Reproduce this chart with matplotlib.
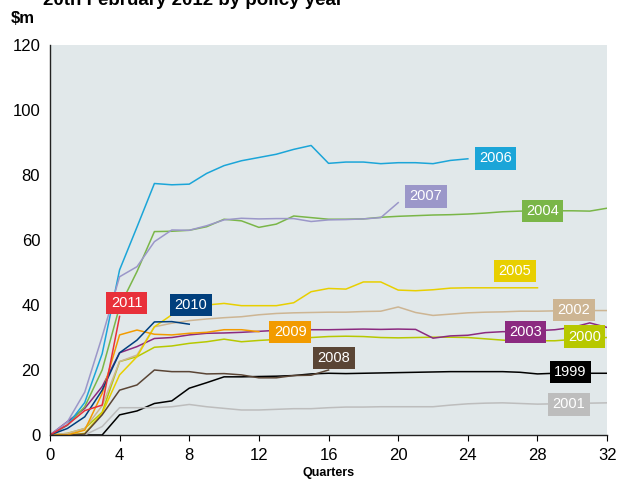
import numpy as np
import matplotlib.pyplot as plt

plt.rcParams['font.family'] = ['Liberation Sans', 'DejaVu Sans']

# cumulative claims ($m) by development quarter, one list per policy year
y1999 = [0, 0, 0, 0, 6.2, 7.4, 9.7, 10.5, 14.4, 16.1, 17.9, 17.9, 18.0, 18.1, 18.3, 18.8, 19.0,
         18.9, 19.0, 19.1, 19.2, 19.3, 19.4, 19.5, 19.5, 19.5, 19.5, 19.3, 18.8, 19.0, 19.0, 19.0, 19.0]
y2000 = [0, 0.5, 2, 7, 22.6, 24.1, 27.0, 27.4, 28.2, 28.7, 29.5, 28.7, 29.1, 29.4, 29.9, 30.0, 30.3,
         30.4, 30.3, 30.0, 29.9, 30.0, 30.1, 30.1, 30.0, 29.6, 29.2, 28.9, 29.0, 29.0, 29.4, 29.8, 30.0]
y2001 = [0, 0, 0, 2.6, 8.4, 8.4, 8.4, 8.7, 9.4, 8.7, 8.2, 7.7, 7.7, 7.9, 8.1, 8.1, 8.4,
         8.6, 8.6, 8.7, 8.7, 8.7, 8.7, 9.2, 9.6, 9.8, 9.9, 9.7, 9.5, 9.6, 9.7, 9.8, 9.9]
y2002 = [0, 0.5, 2, 9, 22.6, 24.6, 33.3, 34.4, 35.2, 35.7, 36.1, 36.4, 37.0, 37.4, 37.6, 37.7, 37.8,
         37.8, 38.0, 38.1, 39.4, 37.7, 36.8, 37.2, 37.6, 37.8, 37.9, 38.1, 38.1, 38.2, 38.2, 38.3, 38.3]
y2003 = [0, 4.1, 8.2, 14.9, 25.3, 27.2, 29.7, 30.0, 30.8, 31.3, 31.4, 31.6, 31.9, 32.2, 32.4, 32.4, 32.4,
         32.5, 32.6, 32.5, 32.6, 32.5, 29.8, 30.5, 30.7, 31.5, 31.8, 31.8, 32.1, 32.4, 33.1, 34.5, 33.1]
y2004 = [0, 3, 8.7, 20, 39.5, 50.3, 62.6, 62.7, 63.0, 64.1, 66.4, 65.9, 63.9, 64.9, 67.4, 66.9, 66.4,
         66.4, 66.5, 67.0, 67.3, 67.5, 67.7, 67.8, 68.0, 68.3, 68.7, 68.9, 68.9, 69.0, 69.0, 68.9, 69.8]
y2005 = [0, 0, 0.5, 6.7, 18.5, 24.1, 33.3, 37.0, 38.0, 40.0, 40.5, 39.8, 39.8, 39.8, 40.7, 44.1, 45.1,
         44.9, 47.1, 47.1, 44.6, 44.4, 44.7, 45.2, 45.3, 45.3, 45.3, 45.3, 45.3]
y2006 = [0, 3, 10, 25, 50.8, 64.0, 77.4, 77.0, 77.2, 80.5, 82.9, 84.4, 85.4, 86.4, 87.9, 89.1, 83.6,
         84.0, 84.0, 83.5, 83.8, 83.8, 83.5, 84.5, 85.0]
y2007 = [0, 4, 13.2, 30.3, 48.7, 51.8, 59.5, 63.1, 63.0, 64.4, 66.2, 66.7, 66.5, 66.6, 66.6, 65.7, 66.2,
         66.3, 66.5, 66.9, 71.5]
y2008 = [0, 0, 0.3, 6.2, 13.8, 15.4, 20.0, 19.5, 19.5, 18.8, 18.9, 18.5, 17.6, 17.6, 18.3, 18.4, 20.0]
y2009 = [0, 0, 1.5, 12.8, 30.8, 32.3, 31.0, 30.8, 31.3, 31.6, 32.4, 32.4, 31.8]
y2010 = [0, 2.0, 5.6, 13.8, 25.3, 29.2, 34.8, 34.9, 34.1]
y2011 = [0, 3.1, 7.5, 9.2, 36.5]

years = ['1999', '2000', '2001', '2002', '2003', '2004', '2005', '2006', '2007', '2008', '2009', '2010', '2011']
series = [y1999, y2000, y2001, y2002, y2003, y2004, y2005, y2006, y2007, y2008, y2009, y2010, y2011]
colors = ['#000000', '#b7c800', '#bdbdbd', '#cdb593', '#8b2a80', '#7ab648', '#e8cf00',
          '#1ba5d8', '#9b97c9', '#5a4535', '#f29b00', '#003f7d', '#e8303a']
# label box centres (quarter, $m)
label_x = [29.9, 30.7, 29.8, 30.1, 27.3, 28.3, 26.7, 25.6, 21.6, 16.3, 13.8, 8.1, 4.4]
label_y = [19.4, 30.2, 9.5, 38.5, 31.7, 68.9, 50.5, 85.2, 73.5, 23.7, 31.7, 40.0, 40.6]

fig = plt.figure(figsize=(6.24, 4.82), dpi=100)
ax = fig.add_axes([0.080, 0.0975, 0.893, 0.809])
ax.set_facecolor('#e1e8ea')

for vals, c in zip(series, colors):
    ax.plot(np.arange(len(vals)), vals, color=c, lw=1.1)

for yr, c, lx, ly in zip(years, colors, label_x, label_y):
    ax.text(lx, ly, yr, color='white', fontsize=10.5, ha='center', va='center', zorder=5,
            bbox=dict(boxstyle='square,pad=0.3', fc=c, ec='none'))

ax.set_xlim(0, 32)
ax.set_ylim(0, 120)
ax.set_xticks(range(0, 33, 4))
ax.set_yticks(range(0, 121, 20))
for s in ['top', 'right']:
    ax.spines[s].set_visible(False)
for s in ['left', 'bottom']:
    ax.spines[s].set_color('#222222')
    ax.spines[s].set_linewidth(1.0)
ax.tick_params(axis='x', direction='out', length=4, width=0.8, labelsize=12, pad=5)
ax.tick_params(axis='y', length=0, labelsize=12, pad=7)
ax.set_xlabel('Quarters', fontsize=9, fontweight='bold', labelpad=3)

fig.text(0.018, 0.962, '$m', fontsize=12, fontweight='bold', va='center')
fig.text(0.069, 0.998, '20th February 2012 by policy year', fontsize=13.5, fontweight='bold', va='center')

fig.savefig('out.png', dpi=100)
